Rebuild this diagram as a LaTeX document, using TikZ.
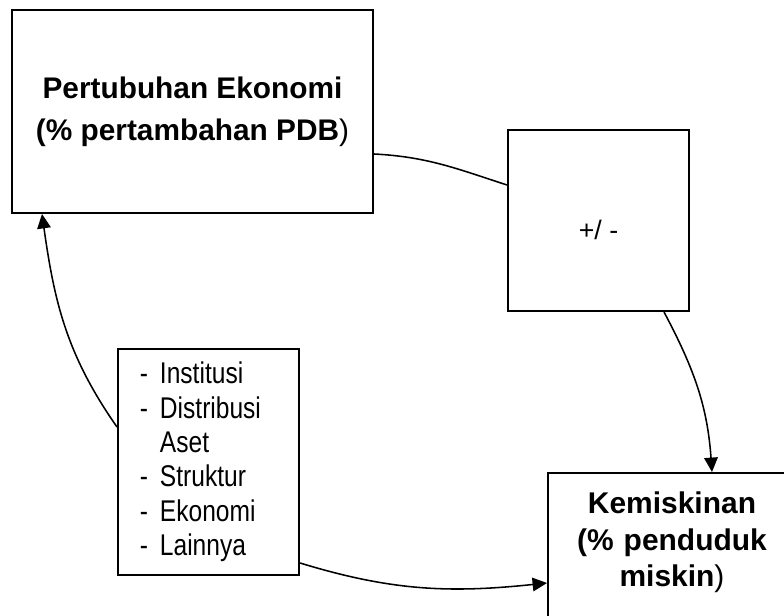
\documentclass[tikz,border=0pt]{standalone}
\usepackage{fontspec}
\setmainfont{Liberation Sans}
\newfontfamily\narrowfont{Liberation Sans}[FakeStretch=0.82]
\usetikzlibrary{calc,arrows.meta}
\newcommand{\dashitem}{\makebox[0.5cm][l]{-}}

\begin{document}
\begin{tikzpicture}
[x=0.025cm, y=0.025cm,
 box/.style={draw, line width=1.4pt, rectangle, inner sep=0pt},
 link/.style={line width=1.1pt},
 arrow/.style={link, -{Triangle[length=0.36cm, width=0.34cm]}}]

\useasboundingbox (0,0) rectangle (784,616);
\clip (0,0) rectangle (784,616);

\node[box, minimum width=9.025cm, minimum height=5.075cm, align=center,
	font=\fontsize{21.2}{29.9}\selectfont] (growth) at(192.5,504.5)
	{\textbf{Pertubuhan Ekonomi}\\\textbf{(\% pertambahan PDB})};

\node[box, minimum width=4.525cm, minimum height=4.525cm,
	text height=0.95cm, text depth=0pt,
	font=\fontsize{19}{22}\selectfont] (sign) at(598.5,395.5)
	{+/ -};

\node[box, minimum width=4.525cm, minimum height=5.65cm, text width=3.425cm, align=left,
	font=\narrowfont\fontsize{21.3}{24.5}\selectfont] (factors) at(208.5,154)
	{\dashitem Institusi\\
	 \dashitem Distribusi\\
	 \hspace*{0.5cm}Aset\\
	 \dashitem Struktur\\
	 \dashitem Ekonomi\\
	 \dashitem Lainnya};

\node[box, anchor=north west, minimum width=6.2cm, text width=6.2cm, align=center,
	inner ysep=0.475cm, text depth=2.5cm,
	font=\fontsize{21.3}{26}\selectfont] (poverty) at(547,144)
	{\textbf{Kemiskinan}\\\textbf{(\% penduduk}\\\textbf{miskin})};

% links between the boxes
\draw[link] ($(growth.east)+(0,-42.5)$) to[out=-3, in=162] ($(sign.west)+(0,35.5)$);
\draw[arrow] ($(sign.south)+(65.5,0)$) to[out=-62, in=94] ($(poverty.north west)+(165,0)$);
\draw[arrow] ($(factors.west)+(0,35)$) to[out=125, in=-82] ($(growth.south)+(-150.5,0)$);
\draw[arrow] ($(factors.east)+(0,-101)$) to[out=-17, in=186] ($(poverty.north west)+(0,-111)$);
\end{tikzpicture}
\end{document}
